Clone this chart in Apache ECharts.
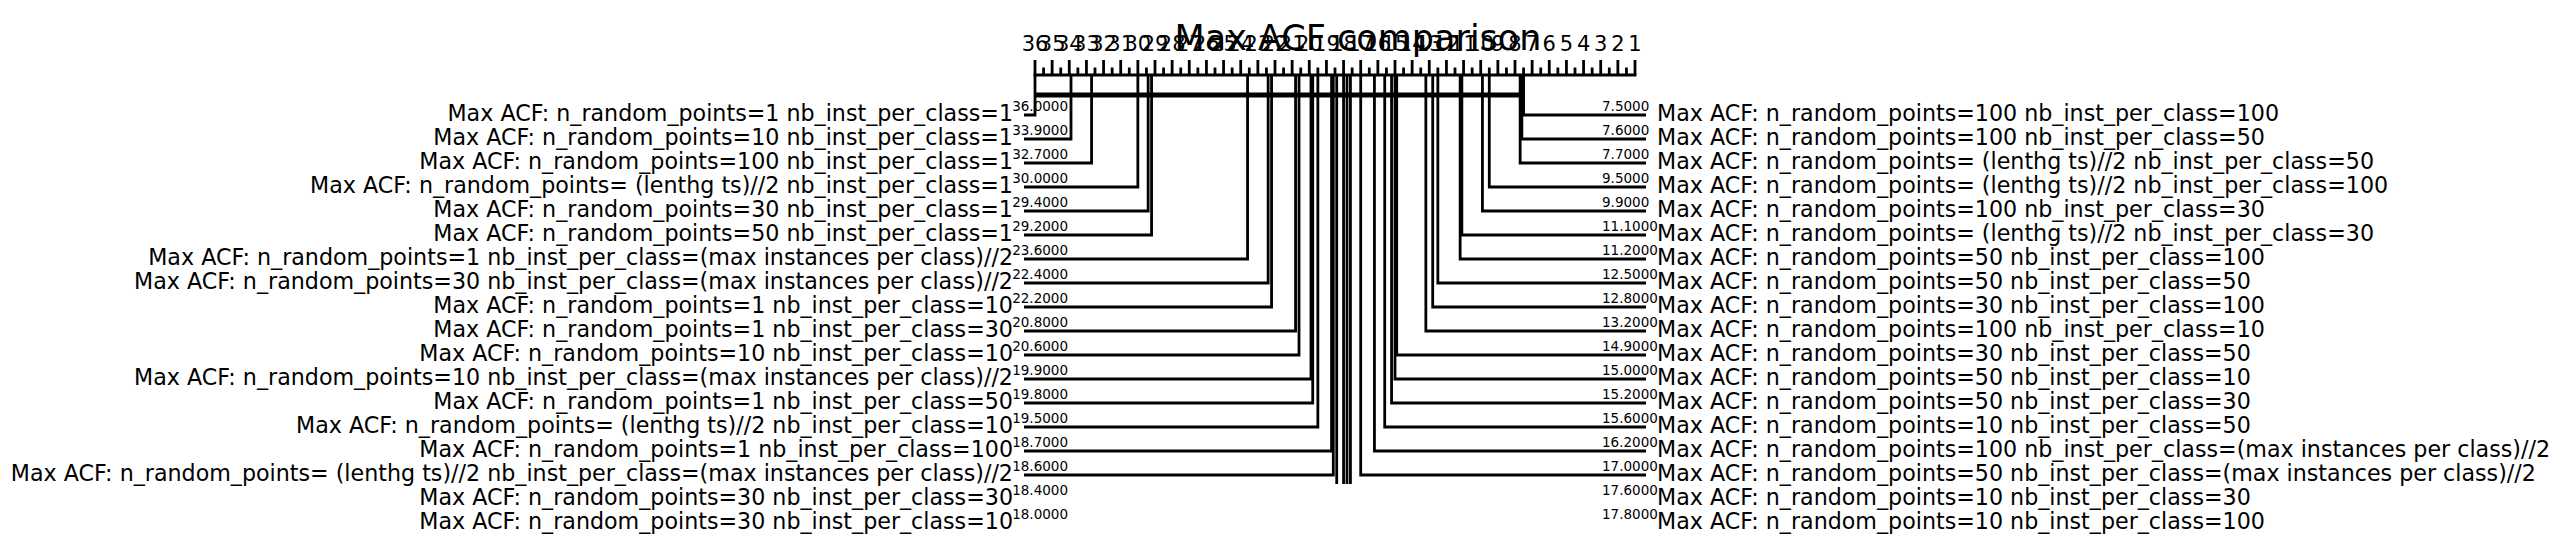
<!DOCTYPE html>
<html><head><meta charset="utf-8">
<script src="https://cdn.jsdelivr.net/npm/echarts@6/dist/echarts.min.js"></script>
<style>html,body{margin:0;padding:0;background:#fff}#c{width:2561px;height:543px}</style>
</head><body><div id="c"></div>
<script>
// ---------------- data ----------------
const chartTitle = 'Max ACF comparison';
const tickLabels = [36,35,34,33,32,31,30,29,28,27,26,25,24,23,22,21,20,19,18,17,16,15,14,13,12,11,10,9,8,7,6,5,4,3,2,1];
const leftNames = [
  'Max ACF: n_random_points=1 nb_inst_per_class=1',
  'Max ACF: n_random_points=10 nb_inst_per_class=1',
  'Max ACF: n_random_points=100 nb_inst_per_class=1',
  'Max ACF: n_random_points= (lenthg ts)//2 nb_inst_per_class=1',
  'Max ACF: n_random_points=30 nb_inst_per_class=1',
  'Max ACF: n_random_points=50 nb_inst_per_class=1',
  'Max ACF: n_random_points=1 nb_inst_per_class=(max instances per class)//2',
  'Max ACF: n_random_points=30 nb_inst_per_class=(max instances per class)//2',
  'Max ACF: n_random_points=1 nb_inst_per_class=10',
  'Max ACF: n_random_points=1 nb_inst_per_class=30',
  'Max ACF: n_random_points=10 nb_inst_per_class=10',
  'Max ACF: n_random_points=10 nb_inst_per_class=(max instances per class)//2',
  'Max ACF: n_random_points=1 nb_inst_per_class=50',
  'Max ACF: n_random_points= (lenthg ts)//2 nb_inst_per_class=10',
  'Max ACF: n_random_points=1 nb_inst_per_class=100',
  'Max ACF: n_random_points= (lenthg ts)//2 nb_inst_per_class=(max instances per class)//2',
  'Max ACF: n_random_points=30 nb_inst_per_class=30',
  'Max ACF: n_random_points=30 nb_inst_per_class=10'
];
const leftRanks = [36.0, 33.9, 32.7, 30.0, 29.4, 29.2, 23.6, 22.4, 22.2, 20.8, 20.6, 19.9, 19.8, 19.5, 18.7, 18.6, 18.4, 18.0];
const rightNames = [
  'Max ACF: n_random_points=100 nb_inst_per_class=100',
  'Max ACF: n_random_points=100 nb_inst_per_class=50',
  'Max ACF: n_random_points= (lenthg ts)//2 nb_inst_per_class=50',
  'Max ACF: n_random_points= (lenthg ts)//2 nb_inst_per_class=100',
  'Max ACF: n_random_points=100 nb_inst_per_class=30',
  'Max ACF: n_random_points= (lenthg ts)//2 nb_inst_per_class=30',
  'Max ACF: n_random_points=50 nb_inst_per_class=100',
  'Max ACF: n_random_points=50 nb_inst_per_class=50',
  'Max ACF: n_random_points=30 nb_inst_per_class=100',
  'Max ACF: n_random_points=100 nb_inst_per_class=10',
  'Max ACF: n_random_points=30 nb_inst_per_class=50',
  'Max ACF: n_random_points=50 nb_inst_per_class=10',
  'Max ACF: n_random_points=50 nb_inst_per_class=30',
  'Max ACF: n_random_points=10 nb_inst_per_class=50',
  'Max ACF: n_random_points=100 nb_inst_per_class=(max instances per class)//2',
  'Max ACF: n_random_points=50 nb_inst_per_class=(max instances per class)//2',
  'Max ACF: n_random_points=10 nb_inst_per_class=30',
  'Max ACF: n_random_points=10 nb_inst_per_class=100'
];
const rightRanks = [7.5, 7.6, 7.7, 9.5, 9.9, 11.1, 11.2, 12.5, 12.8, 13.2, 14.9, 15.0, 15.2, 15.6, 16.2, 17.0, 17.6, 17.8];
const cliqueStarts = [36.0];
const cliqueEnds = [7.5];

// ---------------- layout ----------------
const FONT = '"DejaVu Sans", "Liberation Sans", sans-serif';
const PX_PER_RANK = 600 / 35;
const RANK_MIN = 0, RANK_MAX = 38;
const AXIS_LEFT_PX = 1035;
const ROW0 = 115, ROW_H = 24, H = 543;
const Y = px => (px - ROW0) / ROW_H;
const CLINE = Y(75), TICK_MAJ = Y(60), TICK_MIN = Y(67.5), CLIQUE_Y = Y(95), CLIP_Y = Y(484);
const LW = 2.8;

const gridLeft = AXIS_LEFT_PX - (RANK_MAX - 36) * PX_PER_RANK;
const gridWidth = (RANK_MAX - RANK_MIN) * PX_PER_RANK;

const ticks = [];
for (let i = 0; i < tickLabels.length; i++) {
  ticks.push([tickLabels[i], 1]);
  if (i < tickLabels.length - 1) ticks.push([(tickLabels[i] + tickLabels[i + 1]) / 2, 0]);
}

const lineStyle = (w) => ({ stroke: '#000', lineWidth: w || LW, fill: null, lineJoin: 'miter', lineCap: 'butt' });

function methodRender(side) {
  const names = side === 'left' ? leftNames : rightNames;
  return function (params, api) {
    const r = api.value(0), row = api.value(1);
    const x = api.coord([r, 0])[0];
    const yRow = api.coord([0, row])[1];
    const yAx = api.coord([0, CLINE])[1];
    const yClip = api.coord([0, CLIP_Y])[1];
    const xA36 = api.coord([36, 0])[0];
    const xA1 = api.coord([1, 0])[0];
    const unit = 11; // 0.1 figure units
    const xEnd = side === 'left' ? xA36 - unit : xA1 + unit;
    const children = [];
    const pts = yRow > yClip ? [[x, yAx], [x, yClip]] : [[x, yAx], [x, yRow], [xEnd, yRow]];
    children.push({ type: 'polyline', shape: { points: pts }, style: lineStyle() });
    children.push({
      type: 'text',
      style: {
        text: names[params.dataIndex],
        x: side === 'left' ? xA36 - 2 * unit : xA1 + 2 * unit,
        y: yRow - 2,
        align: side === 'left' ? 'right' : 'left',
        verticalAlign: 'middle',
        fontSize: 22.2, fontFamily: FONT, fill: '#000'
      }
    });
    children.push({
      type: 'text',
      style: {
        text: r.toFixed(4),
        x: side === 'left' ? xA36 + 3 * unit : xA1 - 3 * unit,
        y: yRow - 9,
        align: side === 'left' ? 'right' : 'left',
        verticalAlign: 'middle',
        fontSize: 13.5, fontFamily: FONT, fill: '#000'
      }
    });
    return { type: 'group', children };
  };
}

const chart = echarts.init(document.getElementById('c'), null, { renderer: 'svg' });
chart.setOption({
  animation: false,
  backgroundColor: '#fff',
  graphic: [{
    type: 'text', x: 1358, y: 38,
    style: { text: chartTitle, align: 'center', verticalAlign: 'middle', fontSize: 35, fontFamily: FONT, fill: '#000' }
  }],
  grid: { left: gridLeft, width: gridWidth, top: 0, height: H },
  xAxis: { type: 'value', min: RANK_MIN, max: RANK_MAX, inverse: true, show: false },
  yAxis: { type: 'value', min: Y(0), max: Y(H), inverse: true, show: false },
  series: [
    { // axis line
      type: 'custom', silent: true, data: [[tickLabels[0], tickLabels[tickLabels.length - 1]]],
      renderItem: (p, api) => {
        const a = api.coord([api.value(0), CLINE]);
        const b = api.coord([api.value(1), CLINE]);
        return { type: 'line', shape: { x1: a[0], y1: a[1], x2: b[0], y2: b[1] }, style: { stroke: '#000', lineWidth: LW, lineCap: 'square' } };
      }
    },
    { // ticks
      type: 'custom', silent: true, data: ticks,
      renderItem: (p, api) => {
        const a = api.coord([api.value(0), CLINE]);
        const b = api.coord([api.value(0), api.value(1) ? TICK_MAJ : TICK_MIN]);
        return { type: 'line', shape: { x1: a[0], y1: a[1], x2: b[0], y2: b[1] }, style: { stroke: '#000', lineWidth: LW, lineCap: 'butt' } };
      }
    },
    { // tick labels
      type: 'custom', silent: true, data: tickLabels.map(v => [v]),
      renderItem: (p, api) => {
        const b = api.coord([api.value(0), Y(44)]);
        return { type: 'text', style: { text: String(tickLabels[p.dataIndex]), x: b[0], y: b[1], align: 'center', verticalAlign: 'middle', fontSize: 21, fontFamily: FONT, fill: '#000' } };
      }
    },
    { // cliques
      type: 'custom', silent: true, data: cliqueStarts.map((s, i) => [s, cliqueEnds[i]]),
      renderItem: (p, api) => {
        const a = api.coord([api.value(0), CLIQUE_Y]);
        const b = api.coord([api.value(1), CLIQUE_Y]);
        return { type: 'line', shape: { x1: a[0], y1: a[1], x2: b[0], y2: b[1] }, style: { stroke: '#000', lineWidth: 5, lineCap: 'butt' } };
      }
    },
    { type: 'custom', silent: true, data: leftRanks.map((r, i) => [r, i]), renderItem: methodRender('left') },
    { type: 'custom', silent: true, data: rightRanks.map((r, i) => [r, i]), renderItem: methodRender('right') }
  ]
});
</script></body></html>
